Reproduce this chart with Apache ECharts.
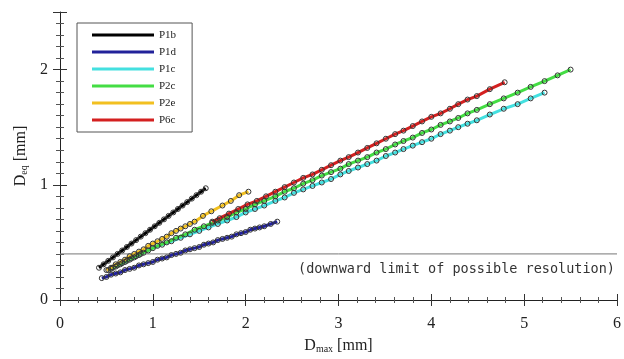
<!DOCTYPE html>
<html>
<head>
<meta charset="utf-8">
<script src="https://cdn.jsdelivr.net/npm/echarts@6/dist/echarts.min.js"></script>
<style>
  html, body { margin: 0; padding: 0; background: #fff; }
  #chart { width: 624px; height: 359px; }
</style>
</head>
<body>
<div id="chart"></div>
<script type="text/javascript">
	// data: [Dmax, Deq] in mm
	var seriesNames = ['P1b', 'P1d', 'P1c', 'P2c', 'P2e', 'P6c'];
	var seriesColors = ['#000000', '#22229a', '#44e0e0', '#44dd44', '#f2c020', '#d42020'];

	var p1b = [[0.42,0.28],[0.47,0.31],[0.52,0.34],[0.57,0.37],[0.62,0.40],[0.67,0.43],[0.72,0.46],[0.77,0.49],
		[0.82,0.52],[0.87,0.55],[0.92,0.58],[0.97,0.61],[1.02,0.64],[1.07,0.67],[1.12,0.70],[1.17,0.73],
		[1.22,0.76],[1.27,0.79],[1.32,0.82],[1.37,0.85],[1.42,0.88],[1.47,0.91],[1.52,0.94],[1.57,0.97]];

	var p1d = [[0.45,0.19],[0.50,0.20],[0.55,0.22],[0.60,0.23],[0.65,0.24],[0.70,0.26],[0.75,0.27],[0.80,0.28],
		[0.85,0.30],[0.90,0.31],[0.95,0.32],[1.00,0.33],[1.05,0.35],[1.10,0.36],[1.15,0.37],[1.20,0.39],
		[1.25,0.40],[1.30,0.41],[1.35,0.43],[1.40,0.44],[1.45,0.45],[1.50,0.46],[1.55,0.48],[1.60,0.49],
		[1.65,0.50],[1.70,0.52],[1.75,0.53],[1.80,0.54],[1.85,0.55],[1.90,0.57],[1.95,0.58],[2.00,0.59],
		[2.05,0.61],[2.10,0.62],[2.15,0.63],[2.20,0.64],[2.27,0.66],[2.34,0.68]];

	var p1c = [[0.55,0.27],[0.60,0.29],[0.65,0.31],[0.70,0.33],[0.75,0.35],[0.80,0.37],[0.85,0.39],[0.90,0.41],
		[1.00,0.45],[1.10,0.48],[1.20,0.51],[1.30,0.54],[1.40,0.57],[1.50,0.60],[1.60,0.63],[1.70,0.66],
		[1.80,0.69],[1.90,0.72],[2.00,0.76],[2.10,0.79],[2.20,0.82],[2.32,0.86],[2.42,0.89],[2.52,0.93],
		[2.62,0.96],[2.72,0.99],[2.82,1.02],[2.92,1.05],[3.02,1.09],[3.11,1.12],[3.21,1.15],[3.31,1.18],
		[3.41,1.21],[3.51,1.25],[3.61,1.28],[3.70,1.31],[3.80,1.34],[3.90,1.37],[4.00,1.40],[4.10,1.44],
		[4.20,1.47],[4.29,1.50],[4.39,1.53],[4.49,1.56],[4.63,1.61],[4.78,1.66],[4.93,1.70],[5.07,1.75],[5.22,1.80]];

	var p2c = [[0.52,0.26],[0.57,0.28],[0.62,0.30],[0.67,0.32],[0.72,0.34],[0.77,0.36],[0.82,0.38],[0.87,0.40],
		[0.95,0.43],[1.05,0.47],[1.15,0.50],[1.25,0.54],[1.35,0.57],[1.45,0.61],[1.55,0.64],[1.64,0.67],
		[1.70,0.69],[1.80,0.72],[1.90,0.76],[2.00,0.79],[2.10,0.83],[2.20,0.86],[2.32,0.90],[2.42,0.94],
		[2.52,0.97],[2.62,1.01],[2.72,1.04],[2.82,1.08],[2.92,1.11],[3.02,1.14],[3.11,1.18],[3.21,1.21],
		[3.31,1.24],[3.41,1.28],[3.51,1.31],[3.61,1.35],[3.70,1.38],[3.80,1.41],[3.90,1.45],[4.00,1.48],
		[4.10,1.52],[4.20,1.55],[4.29,1.58],[4.39,1.62],[4.49,1.65],[4.63,1.70],[4.78,1.75],[4.93,1.80],
		[5.07,1.85],[5.22,1.90],[5.36,1.95],[5.50,2.00]];

	var p2e = [[0.50,0.26],[0.55,0.28],[0.60,0.31],[0.65,0.33],[0.70,0.35],[0.75,0.38],[0.80,0.40],[0.85,0.42],
		[0.90,0.44],[0.95,0.47],[1.00,0.49],[1.05,0.51],[1.10,0.53],[1.15,0.55],[1.20,0.58],[1.25,0.60],
		[1.30,0.62],[1.35,0.64],[1.40,0.66],[1.45,0.68],[1.54,0.73],[1.63,0.77],[1.75,0.82],[1.84,0.86],
		[1.93,0.91],[2.03,0.94]];

	var p6c = [[1.64,0.68],[1.72,0.71],[1.82,0.75],[1.92,0.79],[2.02,0.83],[2.12,0.86],[2.22,0.90],[2.32,0.94],
		[2.42,0.98],[2.52,1.02],[2.62,1.06],[2.72,1.09],[2.82,1.13],[2.92,1.17],[3.02,1.21],[3.11,1.24],
		[3.21,1.28],[3.31,1.32],[3.41,1.36],[3.51,1.40],[3.61,1.44],[3.70,1.47],[3.80,1.51],[3.90,1.55],
		[4.00,1.59],[4.10,1.62],[4.20,1.66],[4.29,1.70],[4.39,1.74],[4.49,1.77],[4.63,1.83],[4.79,1.89]];

	var limitValue = 0.4;
	var limitText = '(downward limit of possible resolution)';

	var serif = '"Liberation Serif", "DejaVu Serif", serif';
	var myChart = echarts.init(document.getElementById('chart'));

	function mkSeries(idx, data) {
		return {
			name: seriesNames[idx],
			type: 'line',
			data: data,
			symbol: 'circle',
			symbolSize: 5,
			showAllSymbol: true,
			lineStyle: { color: seriesColors[idx], width: 3 },
			itemStyle: { color: 'rgba(0,0,0,0)', borderColor: '#333', borderWidth: 1 },
			emphasis: { disabled: true },
			animation: false
		};
	}

	var legendData = seriesNames.map(function (n, i) {
		return { name: n, icon: 'rect', itemStyle: { color: seriesColors[i], borderWidth: 0 } };
	});

	var option = {
		animation: false,
		grid: { left: 60, right: 3, top: 12, bottom: 58 },
		legend: {
			orient: 'vertical',
			left: 77, top: 23,
			padding: [5, 16, 5, 15],
			itemWidth: 62, itemHeight: 3, itemGap: 3,
			borderColor: '#555', borderWidth: 1,
			textStyle: { fontFamily: serif, fontSize: 11, color: '#222', lineHeight: 14 },
			data: legendData
		},
		xAxis: [
			{
				type: 'value', min: 0, max: 6, interval: 1,
				name: '{a|D}{s|max}{a| [mm]}', nameLocation: 'middle', nameGap: 38,
				nameTextStyle: { rich: {
					a: { fontFamily: serif, fontSize: 16, color: '#222' },
					s: { fontFamily: serif, fontSize: 10, color: '#222', verticalAlign: 'bottom', padding: [6, 0, 0, 0] }
				} },
				axisLine: { show: false },
				axisTick: { show: true, inside: true, length: 6, lineStyle: { color: '#333' } },
				minorTick: { show: true, splitNumber: 5, length: 3, lineStyle: { color: '#555' } },
				axisLabel: { fontFamily: serif, fontSize: 16, color: '#222', margin: 16 },
				splitLine: { show: false }
			},
			{
				type: 'value', min: 0, max: 6, interval: 1, position: 'top',
				axisLine: { show: true, lineStyle: { color: '#222', width: 1 } },
				axisTick: { show: true, inside: true, length: 6, lineStyle: { color: '#333' } },
				minorTick: { show: true, splitNumber: 5, length: 3, lineStyle: { color: '#555' } },
				axisLabel: { show: false },
				splitLine: { show: false }
			}
		],
		yAxis: [
			{
				type: 'value', min: 0, max: 2.5, interval: 1,
				name: '{a|D}{s|eq}{a| [mm]}', nameLocation: 'middle', nameGap: 24,
				nameTextStyle: { rich: {
					a: { fontFamily: serif, fontSize: 16, color: '#222' },
					s: { fontFamily: serif, fontSize: 10, color: '#222', verticalAlign: 'bottom', padding: [6, 0, 0, 0] }
				} },
				axisLine: { show: false },
				axisTick: { show: true, inside: true, length: 7, lineStyle: { color: '#333' } },
				minorTick: { show: true, splitNumber: 10, length: 4, lineStyle: { color: '#555' } },
				axisLabel: { fontFamily: serif, fontSize: 16, color: '#222', margin: 12, showMaxLabel: false },
				splitLine: { show: false }
			},
			{
				type: 'value', min: 0, max: 2.5, interval: 1, position: 'right',
				axisLine: { show: true, lineStyle: { color: '#222', width: 1 } },
				axisTick: { show: true, inside: true, length: 7, lineStyle: { color: '#333' } },
				minorTick: { show: true, splitNumber: 10, length: 4, lineStyle: { color: '#555' } },
				axisLabel: { show: false },
				splitLine: { show: false }
			}
		],
		series: [
			{
				name: 'limit', type: 'line', data: [[0, limitValue], [6, limitValue]],
				symbol: 'none', lineStyle: { color: '#777', width: 1 }, silent: true,
				label: { show: false }
			},
			mkSeries(2, p1c),
			mkSeries(3, p2c),
			mkSeries(5, p6c),
			mkSeries(4, p2e),
			mkSeries(1, p1d),
			mkSeries(0, p1b)
		],
		graphic: [
			{
				type: 'text', right: 9, top: 262,
				style: {
					text: limitText, fill: '#333',
					font: '13.5px "DejaVu Sans Mono", monospace'
				}
			}
		]
	};
	myChart.setOption(option);
</script>
</body>
</html>
